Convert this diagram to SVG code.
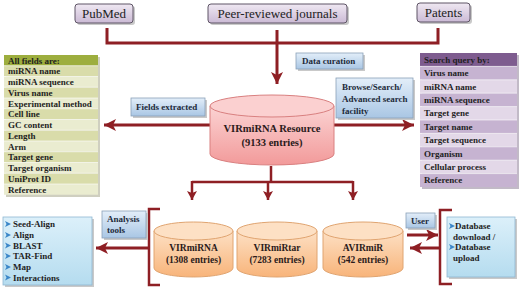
<svg xmlns="http://www.w3.org/2000/svg" width="520" height="290" viewBox="0 0 520 290">
<defs>
<linearGradient id="gTop" x1="0" y1="0" x2="0" y2="1"><stop offset="0" stop-color="#efe8f2"/><stop offset="1" stop-color="#cbbad5"/></linearGradient>
<linearGradient id="gLbl" x1="0" y1="0" x2="0" y2="1"><stop offset="0" stop-color="#e3eef9"/><stop offset="1" stop-color="#a9c6e4"/></linearGradient>
<linearGradient id="gList" x1="0" y1="0" x2="0" y2="1"><stop offset="0" stop-color="#dcf0fa"/><stop offset="1" stop-color="#b5dcef"/></linearGradient>
<linearGradient id="gPink" x1="0" y1="0" x2="0" y2="1"><stop offset="0" stop-color="#fbd3d3"/><stop offset="1" stop-color="#f29a9a"/></linearGradient>
<linearGradient id="gOr" x1="0" y1="0" x2="0" y2="1"><stop offset="0" stop-color="#fde0c4"/><stop offset="1" stop-color="#f8b47a"/></linearGradient>
<marker id="ah" markerUnits="userSpaceOnUse" markerWidth="14" markerHeight="12" refX="12" refY="6" orient="auto"><path d="M0,0 L12,6 L0,12 L3,6 Z" fill="#8e1f24"/></marker>
<marker id="ahs" markerUnits="userSpaceOnUse" markerWidth="10" markerHeight="10" refX="9" refY="5" orient="auto"><path d="M0,0 L9,5 L0,10 L2,5 Z" fill="#8e1f24"/></marker>
<path id="bul" d="M0,-3 L6,0 L0,3 L1.5,0 Z"/>
</defs>
<style>
.top{fill:url(#gTop);stroke:#5f5566;stroke-width:1}
.sh{fill:#c9c9c9}
.topt{font-family:"Liberation Serif",serif;font-size:13px;fill:#222;text-anchor:middle}
.lbl{fill:url(#gLbl);stroke:#8aa0b8;stroke-width:0.8}
.lblt{font-family:"Liberation Serif",serif;font-size:9px;font-weight:bold;fill:#1d2a3a}
.tt{font-family:"Liberation Serif",serif;font-size:9px;font-weight:bold;fill:#1f1f1f}
.cyt{font-family:"Liberation Serif",serif;font-weight:bold;fill:#2a1a1a;text-anchor:middle}
.con{fill:none;stroke:#8e1f24;stroke-width:3}
.cons{fill:none;stroke:#8e1f24;stroke-width:2.5}
.gA{fill:#d9dcaa}.gB{fill:#eaecd0}
.pA{fill:#c6b3d1}.pB{fill:#e3d8e8}
.blu{fill:#3b86c8}
</style>

<g id="connectors">
<path class="con" d="M107,28 V43 H438 V28"/>
<path class="con" d="M277,30 V84" marker-end="url(#ah)"/>
<path class="con" d="M210,125 H104" marker-end="url(#ah)"/>
<path class="con" d="M334,125 H414" marker-end="url(#ah)"/>
<path class="cons" d="M271,166 V182"/>
<path class="cons" d="M192,182 H353"/>
<path class="cons" d="M192,181 V200" marker-end="url(#ahs)"/>
<path class="cons" d="M268,181 V200" marker-end="url(#ahs)"/>
<path class="cons" d="M353,181 V200" marker-end="url(#ahs)"/>
<path class="cons" d="M160,209 H149 V285 H160"/>
<path class="con" d="M149,248 H96" marker-end="url(#ah)"/>
<path class="cons" d="M452,210 H440 V284 H452"/>
<path class="con" d="M407,235 H438" marker-end="url(#ah)"/>
<path class="con" d="M440,248 H410" marker-end="url(#ah)"/>
</g>

<g id="pubmed"><rect class="sh" x="77" y="6" width="58" height="19" rx="3"/><rect class="top" x="75" y="4" width="58" height="19" rx="3"/><text class="topt" x="104" y="18">PubMed</text></g>
<g id="journals"><rect class="sh" x="210" y="6" width="139" height="19" rx="3"/><rect class="top" x="208" y="4" width="139" height="19" rx="3"/><text class="topt" x="277.5" y="18">Peer-reviewed journals</text></g>
<g id="patents"><rect class="sh" x="419" y="5" width="53" height="19" rx="3"/><rect class="top" x="417" y="3" width="53" height="19" rx="3"/><text class="topt" x="443.5" y="17">Patents</text></g>

<g id="data-curation"><rect class="sh" x="298" y="55" width="67" height="16"/><rect class="lbl" x="296" y="53" width="67" height="16"/><text class="lblt" x="302" y="64">Data curation</text></g>
<g id="fields-extracted"><rect class="sh" x="133" y="100" width="74" height="18"/><rect class="lbl" x="131" y="98" width="74" height="18"/><text class="lblt" x="136" y="110">Fields extracted</text></g>
<g id="browse"><rect class="sh" x="338" y="80" width="77" height="40"/><rect class="lbl" x="336" y="78" width="77" height="40"/><text class="lblt" x="342" y="90">Browse/Search/</text><text class="lblt" x="342" y="102">Advanced search</text><text class="lblt" x="342" y="114">facility</text></g>
<g id="analysis-tools"><rect class="sh" x="104" y="213" width="44" height="27"/><rect class="lbl" x="102" y="211" width="44" height="27"/><text class="lblt" x="107" y="222">Analysis</text><text class="lblt" x="107" y="233">tools</text></g>
<g id="user"><rect class="sh" x="408" y="215" width="29" height="15"/><rect class="lbl" x="406" y="213" width="29" height="15"/><text class="lblt" x="411" y="224">User</text></g>

<g id="all-fields">
<rect x="6" y="57" width="94" height="140" fill="#cfcfc0"/>
<rect x="4" y="55" width="94" height="10.75" fill="#9dae3e"/>
<rect class="gA" x="4" y="65.75" width="94" height="10.75"/>
<rect class="gB" x="4" y="76.5" width="94" height="10.75"/>
<rect class="gA" x="4" y="87.25" width="94" height="10.75"/>
<rect class="gB" x="4" y="98" width="94" height="10.75"/>
<rect class="gA" x="4" y="108.75" width="94" height="10.75"/>
<rect class="gB" x="4" y="119.5" width="94" height="10.75"/>
<rect class="gA" x="4" y="130.25" width="94" height="10.75"/>
<rect class="gB" x="4" y="141" width="94" height="10.75"/>
<rect class="gA" x="4" y="151.75" width="94" height="10.75"/>
<rect class="gB" x="4" y="162.5" width="94" height="10.75"/>
<rect class="gA" x="4" y="173.25" width="94" height="10.75"/>
<rect class="gB" x="4" y="184" width="94" height="10.75"/>
<g stroke="#ffffff" stroke-width="0.6"><path d="M4,65.75H98M4,76.5H98M4,87.25H98M4,98H98M4,108.75H98M4,119.5H98M4,130.25H98M4,141H98M4,151.75H98M4,162.5H98M4,173.25H98M4,184H98"/></g>
<text class="tt" x="8" y="63.5">All fields are:</text>
<text class="tt" x="8" y="74.2">miRNA name</text>
<text class="tt" x="8" y="85">miRNA sequence</text>
<text class="tt" x="8" y="95.7">Virus name</text>
<text class="tt" x="8" y="106.5">Experimental method</text>
<text class="tt" x="8" y="117.2">Cell line</text>
<text class="tt" x="8" y="128">GC content</text>
<text class="tt" x="8" y="138.7">Length</text>
<text class="tt" x="8" y="149.5">Arm</text>
<text class="tt" x="8" y="160.2">Target gene</text>
<text class="tt" x="8" y="171">Target organism</text>
<text class="tt" x="8" y="181.7">UniProt ID</text>
<text class="tt" x="8" y="192.5">Reference</text>
</g>

<g id="search-query">
<rect x="422" y="55" width="97" height="134" fill="#c2bac7"/>
<rect x="420" y="53" width="97" height="13.4" fill="#7e5c8f"/>
<rect class="pA" x="420" y="66.4" width="97" height="13.4"/>
<rect class="pB" x="420" y="79.8" width="97" height="13.4"/>
<rect class="pA" x="420" y="93.2" width="97" height="13.4"/>
<rect class="pB" x="420" y="106.6" width="97" height="13.4"/>
<rect class="pA" x="420" y="120" width="97" height="13.4"/>
<rect class="pB" x="420" y="133.4" width="97" height="13.4"/>
<rect class="pA" x="420" y="146.8" width="97" height="13.4"/>
<rect class="pB" x="420" y="160.2" width="97" height="13.4"/>
<rect class="pA" x="420" y="173.6" width="97" height="13.4"/>
<g stroke="#ffffff" stroke-width="0.6"><path d="M420,66.4H517M420,79.8H517M420,93.2H517M420,106.6H517M420,120H517M420,133.4H517M420,146.8H517M420,160.2H517M420,173.6H517"/></g>
<text class="tt" x="424" y="62.7" fill="#2a1836">Search query by:</text>
<text class="tt" x="424" y="76.1">Virus name</text>
<text class="tt" x="424" y="89.5">miRNA name</text>
<text class="tt" x="424" y="102.9">miRNA sequence</text>
<text class="tt" x="424" y="116.3">Target gene</text>
<text class="tt" x="424" y="129.7">Target name</text>
<text class="tt" x="424" y="143.1">Target sequence</text>
<text class="tt" x="424" y="156.5">Organism</text>
<text class="tt" x="424" y="169.9">Cellular process</text>
<text class="tt" x="424" y="183.3">Reference</text>
</g>

<g id="resource">
<path d="M210,106 V154 A62,11 0 0 0 334,154 V106 Z" fill="url(#gPink)" stroke="#d98080" stroke-width="1"/>
<ellipse cx="272" cy="106" rx="62" ry="11" fill="#fbd0d0" stroke="#d98080" stroke-width="1"/>
<text class="cyt" x="272" y="132" font-size="10.5">VIRmiRNA Resource</text>
<text class="cyt" x="272" y="146" font-size="10.5">(9133 entries)</text>
</g>

<g id="virmirna">
<path d="M154,231 V268 A39.5,9 0 0 0 233,268 V231 Z" fill="url(#gOr)" stroke="#e0a470" stroke-width="1"/>
<ellipse cx="193.5" cy="231" rx="39.5" ry="9" fill="#fde0c4" stroke="#e0a470" stroke-width="1"/>
<text class="cyt" x="193.5" y="251" font-size="9.5">VIRmiRNA</text>
<text class="cyt" x="193.5" y="263" font-size="9.5">(1308 entries)</text>
</g>
<g id="virmirtar">
<path d="M237,231 V268 A40,9 0 0 0 317,268 V231 Z" fill="url(#gOr)" stroke="#e0a470" stroke-width="1"/>
<ellipse cx="277" cy="231" rx="40" ry="9" fill="#fde0c4" stroke="#e0a470" stroke-width="1"/>
<text class="cyt" x="277" y="251" font-size="9.5">VIRmiRtar</text>
<text class="cyt" x="277" y="263" font-size="9.5">(7283 entries)</text>
</g>
<g id="avirmir">
<path d="M323,231 V268 A40,9 0 0 0 403,268 V231 Z" fill="url(#gOr)" stroke="#e0a470" stroke-width="1"/>
<ellipse cx="363" cy="231" rx="40" ry="9" fill="#fde0c4" stroke="#e0a470" stroke-width="1"/>
<text class="cyt" x="363" y="251" font-size="9.5">AVIRmiR</text>
<text class="cyt" x="363" y="263" font-size="9.5">(542 entries)</text>
</g>

<g id="tools-list">
<rect class="sh" x="5" y="219" width="89" height="68"/>
<rect x="3" y="217" width="89" height="68" fill="url(#gList)" stroke="#8fb7d2" stroke-width="0.8"/>
<use href="#bul" class="blu" x="5" y="224"/><text class="tt" x="13" y="227">Seed-Align</text>
<use href="#bul" class="blu" x="5" y="235"/><text class="tt" x="13" y="238">Align</text>
<use href="#bul" class="blu" x="5" y="245.5"/><text class="tt" x="13" y="248.5">BLAST</text>
<use href="#bul" class="blu" x="5" y="256"/><text class="tt" x="13" y="259">TAR-Find</text>
<use href="#bul" class="blu" x="5" y="267"/><text class="tt" x="13" y="270">Map</text>
<use href="#bul" class="blu" x="5" y="277.5"/><text class="tt" x="13" y="280.5">Interactions</text>
</g>

<g id="database">
<rect class="sh" x="449" y="219" width="68" height="60"/>
<rect x="447" y="217" width="68" height="60" fill="url(#gList)" stroke="#8fb7d2" stroke-width="0.8"/>
<use href="#bul" class="blu" x="449" y="226"/><text class="tt" x="455" y="229">Database</text>
<text class="tt" x="453" y="239.5">download /</text>
<use href="#bul" class="blu" x="449" y="247"/><text class="tt" x="455" y="250">Database</text>
<text class="tt" x="453" y="260.5">upload</text>
</g>
</svg>
